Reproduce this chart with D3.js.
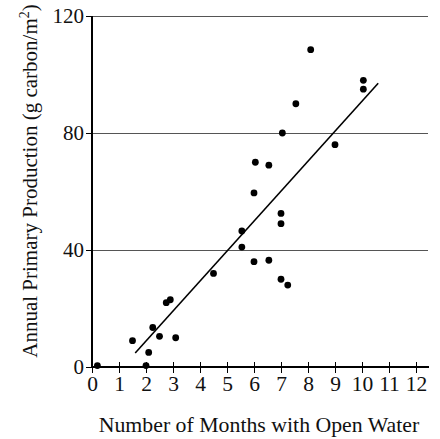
<!DOCTYPE html>
<html><head><meta charset="utf-8">
<script src="https://cdn.jsdelivr.net/npm/d3@7/dist/d3.min.js"></script>
<style>body{margin:0;background:#fff}svg{display:block}</style>
</head><body>
<script>
const months = [0.2,1.5,2,2.1,2.25,2.5,2.75,2.9,3.1,4.5,5.55,5.55,6,6,6.55,7,7,7,7.25,8.1,10.05,10.05,7.55,7.05,9,6.05,6.55];
const production = [0.5,9,0.5,5,13.5,10.5,22,23,10,32,46.5,41,59.5,36,36.5,52.5,49,30,28,108.5,98,95,90,80,76,70,69];
const fitX = [1.6,10.6];
const fitY = [4.8,97];
const xTicks = [0,1,2,3,4,5,6,7,8,9,10,11,12];
const yTicks = [0,40,80,120];
const xTitle = "Number of Months with Open Water";
const yTitleMain = "Annual Primary Production (g carbon/m";
const yTitleSup = "2";
const yTitleEnd = ")";

const W=440,H=439;
const svg=d3.select("body").append("svg").attr("width",W).attr("height",H);
const x=d3.scaleLinear().domain([0,12]).range([92,416]);
const y=d3.scaleLinear().domain([0,120]).range([367,16]);
const font="'Liberation Serif','Times New Roman',serif";

// gridlines
svg.append("g").selectAll("line").data(yTicks.filter(d=>d>0)).join("line")
  .attr("x1",x(0)).attr("x2",428).attr("y1",d=>Math.round(y(d))+0.5).attr("y2",d=>Math.round(y(d))+0.5)
  .attr("stroke","#555").attr("stroke-width",1.2);

// y axis
const ya=svg.append("g").attr("transform",`translate(${x(0)},0)`)
  .call(d3.axisLeft(y).tickValues(yTicks).tickSize(6).tickPadding(2).tickFormat(d3.format("d")));
ya.select(".domain").remove();
ya.selectAll("line").attr("stroke","#000");
ya.selectAll("text").attr("font-family",font).attr("font-size",21).attr("fill","#111");
svg.append("line").attr("x1",x(0)).attr("x2",x(0)).attr("y1",y(120)).attr("y2",y(0)+1)
  .attr("stroke","#000").attr("stroke-width",2);

// x axis
const xa=svg.append("g").attr("transform",`translate(0,${y(0)})`)
  .call(d3.axisBottom(x).tickValues(xTicks).tickSize(6).tickPadding(3).tickFormat(d3.format("d")));
xa.select(".domain").remove();
xa.selectAll(".tick line").attr("y1",-5).attr("stroke","#000");
xa.selectAll("text").attr("font-family",font).attr("font-size",21.5).attr("fill","#111");
svg.append("line").attr("x1",x(0)-1).attr("x2",429).attr("y1",y(0)).attr("y2",y(0))
  .attr("stroke","#000").attr("stroke-width",2);

// fit line
svg.append("line").attr("x1",x(fitX[0])).attr("y1",y(fitY[0])).attr("x2",x(fitX[1])).attr("y2",y(fitY[1]))
  .attr("stroke","#000").attr("stroke-width",1.6);

// points
svg.append("g").selectAll("circle").data(months.map((m,i)=>[m,production[i]])).join("circle")
  .attr("cx",d=>x(d[0])).attr("cy",d=>y(d[1])).attr("r",3.4).attr("fill","#000");

// titles
svg.append("text").attr("x",259).attr("y",432).attr("text-anchor","middle")
  .attr("font-family",font).attr("font-size",21.8).attr("fill","#111").text(xTitle);
const yt=svg.append("text").attr("transform",`translate(37,181) rotate(-90)`).attr("text-anchor","middle")
  .attr("font-family",font).attr("font-size",21).attr("fill","#111");
yt.append("tspan").text(yTitleMain);
yt.append("tspan").attr("font-size",14).attr("dy",-8).text(yTitleSup);
yt.append("tspan").attr("dy",8).text(yTitleEnd);
</script>
</body></html>
